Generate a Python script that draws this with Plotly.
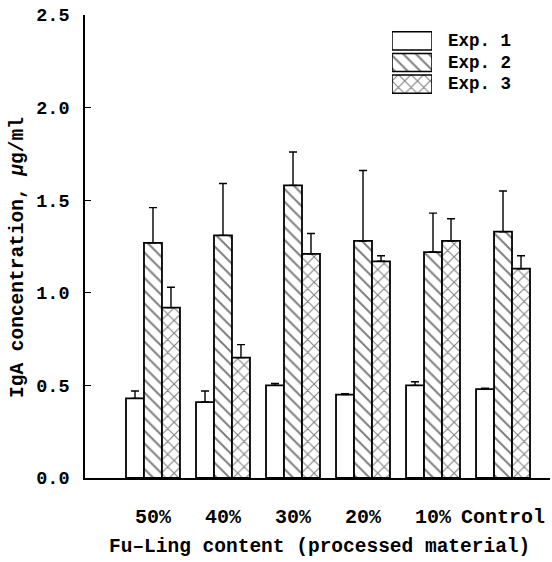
import plotly.graph_objects as go

categories = ["50%", "40%", "30%", "20%", "10%", "Control"]
series_names = ["Exp. 1", "Exp. 2", "Exp. 3"]
exp1 = [0.43, 0.41, 0.50, 0.45, 0.50, 0.48]
exp2 = [1.27, 1.31, 1.58, 1.28, 1.22, 1.33]
exp3 = [0.92, 0.65, 1.21, 1.17, 1.28, 1.13]
err1 = [0.04, 0.06, 0.01, 0.005, 0.02, 0.005]
err2 = [0.19, 0.28, 0.18, 0.38, 0.21, 0.22]
err3 = [0.11, 0.07, 0.11, 0.03, 0.12, 0.07]
y_ticks = [0.0, 0.5, 1.0, 1.5, 2.0, 2.5]

values = [exp1, exp2, exp3]
errors = [err1, err2, err3]
shapes_pat = ["", "\\", "x"]

FONT = "Liberation Mono"
BW = 0.257
xpos = list(range(len(categories)))

fig = go.Figure()
for k in range(3):
    fig.add_trace(go.Bar(
        x=xpos, y=values[k], name=series_names[k],
        width=BW, offset=-1.5 * BW + k * BW,
        marker=dict(color="white",
                    line=dict(color="black", width=1.8),
                    pattern=dict(shape=shapes_pat[k], fgcolor="black", bgcolor="white",
                                 size=9, solidity=0.22)),
        error_y=dict(type="data", symmetric=False, array=errors[k],
                     arrayminus=[0] * len(categories),
                     color="black", thickness=1.4, width=4),
        showlegend=False,
    ))

# custom legend swatches
for k in range(3):
    fig.add_trace(go.Bar(
        x=[1], y=[k], orientation="h", width=0.84,
        xaxis="x2", yaxis="y2",
        marker=dict(color="white",
                    line=dict(color="black", width=1.5),
                    pattern=dict(shape=shapes_pat[k], fgcolor="black", bgcolor="white",
                                 size=9, solidity=0.22)),
        showlegend=False, hoverinfo="skip",
    ))

annotations = []
L, R, T, B = 85, 2, 15, 84
W, H = 552, 562
pw, ph = W - L - R, H - T - B


def px_x(p):
    return (p - L) / pw


def px_y(p):
    return (H - B - p) / ph


def fnt(size):
    return dict(family=FONT, size=size, color="black", weight="bold")


for k in range(3):
    annotations.append(dict(text=series_names[k], xref="paper", yref="paper",
                            x=px_x(446), y=px_y(41 + k * 21.5), xanchor="left", yanchor="middle",
                            showarrow=False, font=fnt(17.5)))

annotations.append(dict(text="Fu\u2013Ling content (processed material)", xref="paper", yref="paper",
                        x=px_x(319), y=px_y(547), xanchor="center", yanchor="middle",
                        showarrow=False, font=fnt(19.5)))
annotations.append(dict(text="IgA concentration, <i>\u03bc</i>g/ml", xref="paper", yref="paper",
                        x=px_x(18), y=px_y(258), xanchor="center", yanchor="middle", textangle=-90,
                        showarrow=False, font=fnt(19.5)))

fig.update_layout(
    width=W, height=H,
    margin=dict(l=L, r=R, t=T, b=B),
    paper_bgcolor="white", plot_bgcolor="white",
    barmode="overlay",
    font=fnt(17),
    xaxis=dict(range=[-0.971, 5.671], tickmode="array", tickvals=xpos, ticktext=categories,
               showline=True, linecolor="black", linewidth=1.6, ticks="",
               showgrid=False, zeroline=False, ticklabelstandoff=19,
               tickfont=fnt(20)),
    yaxis=dict(range=[0, 2.5], tickmode="array", tickvals=y_ticks,
               ticktext=[f"{v:.1f}" for v in y_ticks],
               showline=True, linecolor="black", linewidth=1.6, ticks="inside", ticklen=6,
               tickcolor="black", tickwidth=1.4,
               showgrid=False, zeroline=False, ticklabelstandoff=10,
               tickfont=fnt(18.5)),
    xaxis2=dict(domain=[px_x(392), px_x(432)], range=[0, 1], visible=False, anchor="y2"),
    yaxis2=dict(domain=[px_y(95), px_y(30)], range=[2.5, -0.5], visible=False, anchor="x2"),
    annotations=annotations,
    showlegend=False,
)

fig.write_html("out.html")
